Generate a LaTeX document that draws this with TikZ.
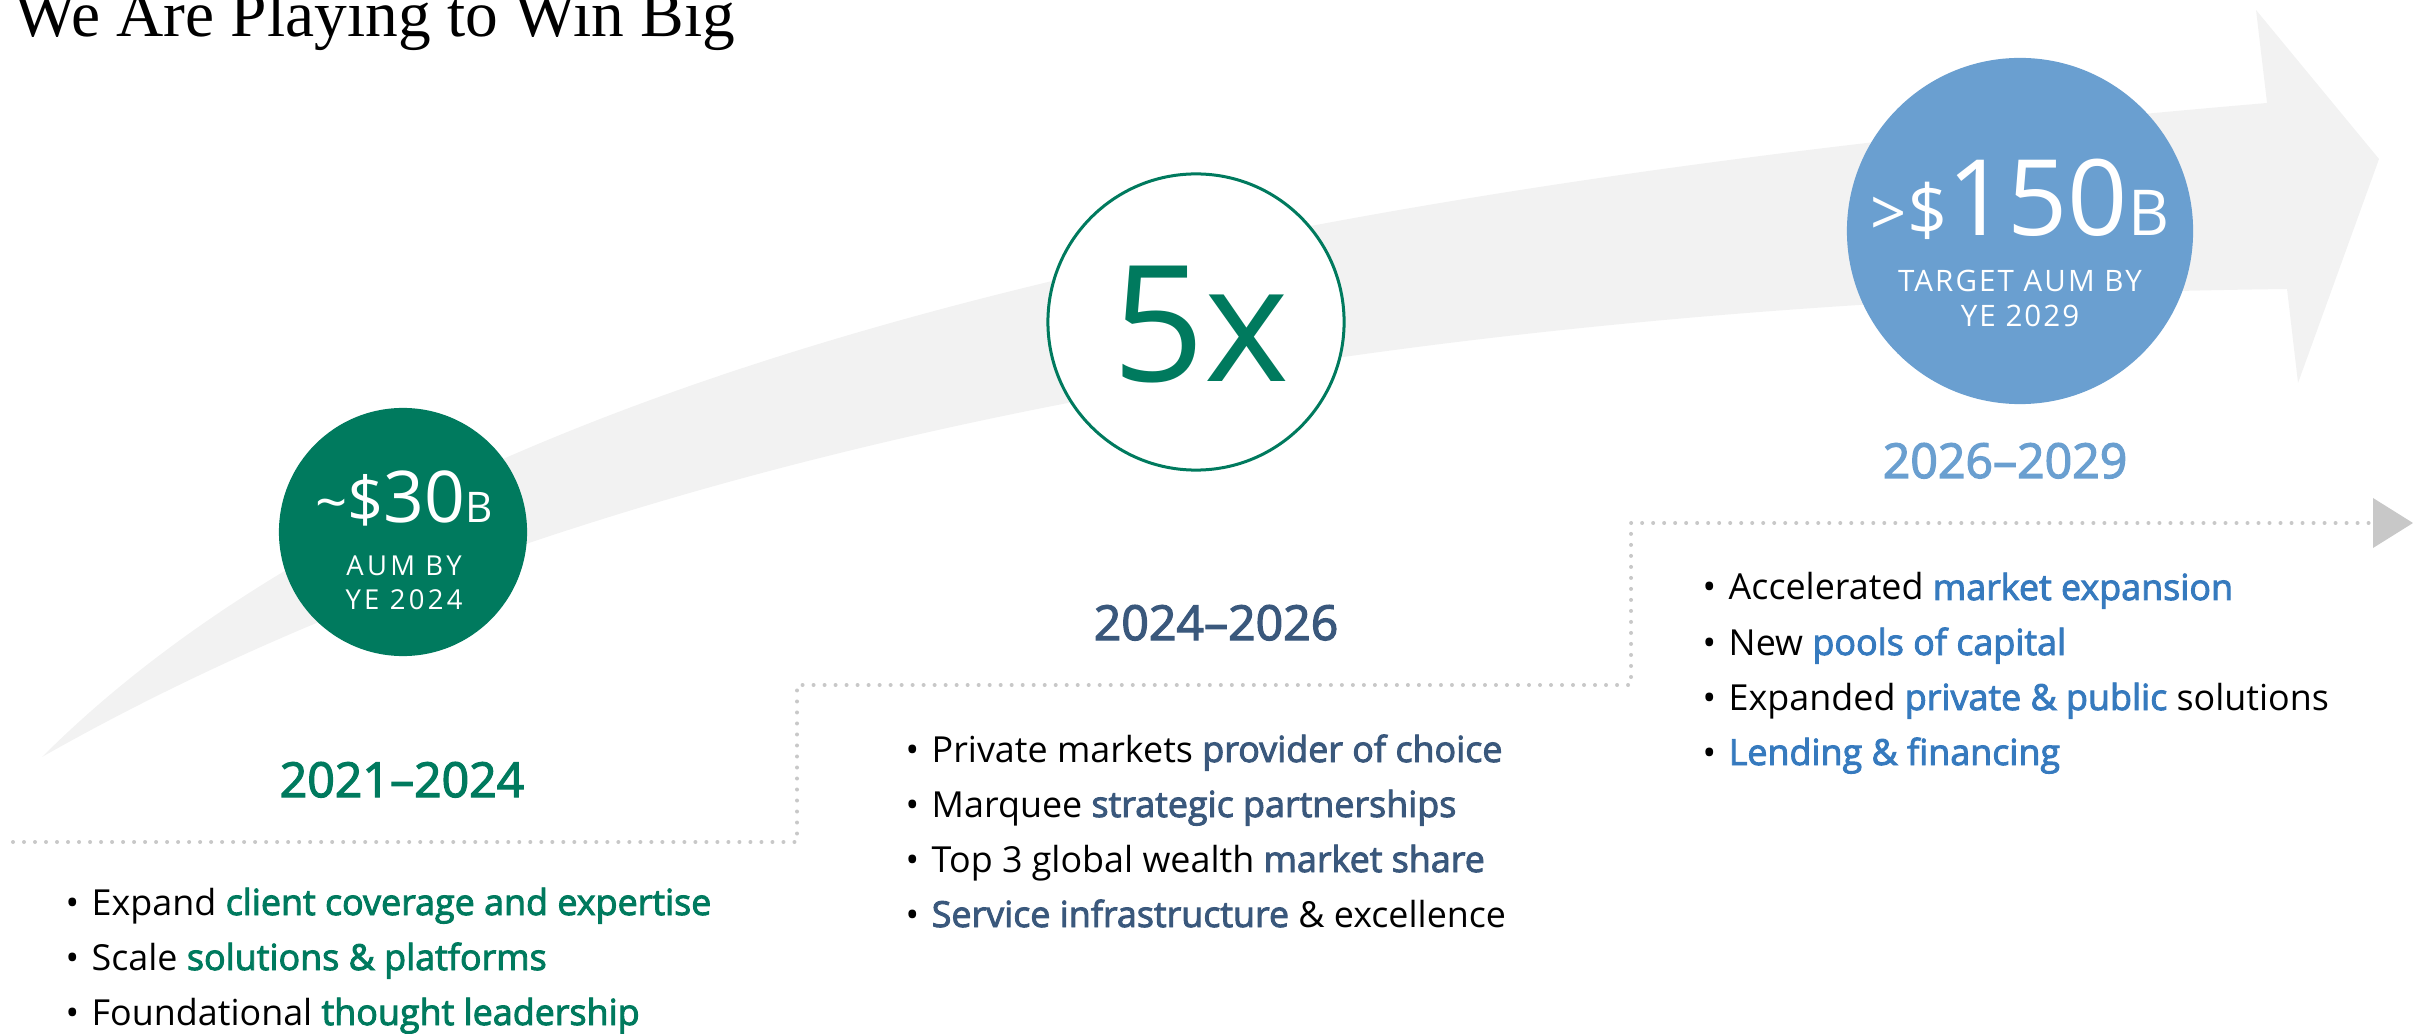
\documentclass[tikz,border=0pt]{standalone}
\usepackage{fontspec}
\setmainfont{Open Sans}[BoldFont={Open Sans}, BoldFeatures={FakeBold=2.6}]
\newfontfamily\lightfont{Open Sans}
\newfontfamily\titlefont{Liberation Serif}
\usetikzlibrary{arrows.meta, positioning}

\definecolor{wgreen}{RGB}{0,122,94}
\definecolor{wslate}{RGB}{58,88,124}
\definecolor{wblue}{RGB}{54,122,190}
\definecolor{wsky}{RGB}{106,159,208}
\definecolor{wdots}{RGB}{200,200,200}
\definecolor{wswoosh}{RGB}{242,242,242}

\newcommand{\bul}{\makebox[0.26cm][l]{\textbullet}}
\newcommand{\hl}[2]{\textcolor{#1}{\textbf{#2}}}
\newcommand{\sz}[2]{{\fontsize{#1}{#1}\selectfont #2}}

\tikzset{
  swoosh/.style={fill=wswoosh},
  track/.style={draw=wdots, line width=0.04cm, line cap=round, dash pattern=on 0pt off 0.11cm,
    -{Triangle[length=0.4cm, width=0.5cm, line width=0pt]}},
  coin/.style={circle, inner sep=0pt},
  coinnote/.style={anchor=base, text=white, font=\fontsize{7.8}{9}\selectfont\addfontfeature{LetterSpace=12}},
  yearlabel/.style={anchor=base, font=\bfseries\fontsize{13.7}{16}\selectfont},
  bulletline/.style={anchor=base west, inner sep=0pt, font=\fontsize{10.2}{12}\selectfont},
}

\begin{document}
\begin{tikzpicture}[x=0.01cm, y=-0.01cm]
  \useasboundingbox (0,0) rectangle (2413,1034);
  \clip (0,0) rectangle (2413,1034);

  % big grey arrow behind everything
  \fill[swoosh] (42,757) .. controls (450,350) and (1300,185) .. (2267,103)
    -- (2256,10) -- (2379,159) -- (2298,383) -- (2287,289)
    .. controls (1400,300) and (600,440) .. (42,757) -- cycle;

  % dotted staircase
  \coordinate (s0) at (13,842);
  \coordinate (s1) at (797,842);
  \coordinate (s2) at (797,685);
  \coordinate (s3) at (1631,685);
  \coordinate (s4) at (1631,523);
  \coordinate (s5) at (2413,523);
  \draw[track] (s0) -- (s1) -- (s2) -- (s3) -- (s4) -- (s5);

  \node[anchor=base west, inner sep=0pt, font=\titlefont\fontsize{18.6}{18.6}\selectfont] (title) at (14,37) {We Are Playing to Win Big};

  % circles
  \node[coin, fill=wgreen, minimum size=2.48cm] (aum) at (403,532) {};
  \node[anchor=base, text=white, font=\lightfont] (aumval) at (404,523)
    {\sz{16}{\textasciitilde}\sz{18}{\$}\sz{20.3}{30}\sz{12}{B}};
  \node[coinnote] (aumtxt) at (404,575) {AUM BY};
  \node[coinnote] (aumye) at (404,610) {YE 2024};

  \node[coin, draw=wgreen, line width=0.03cm, fill=white, minimum size=2.96cm] (ring) at (1196,322) {};
  \node[anchor=base, text=wgreen, font=\lightfont\fontsize{46}{46}\selectfont] (mult) at (1201,382) {5x};

  \node[coin, fill=wsky, minimum size=3.46cm] (goal) at (2020,231) {};
  \node[anchor=base, text=white, font=\lightfont] (goalval) at (2020,236)
    {\sz{18}{>}\sz{20}{\$}\sz{30}{150}\sz{18}{B}};
  \node[coinnote, font=\fontsize{8.4}{10}\selectfont\addfontfeature{LetterSpace=7}] (goaltxt) at (2020,292) {TARGET AUM BY};
  \node[coinnote, font=\fontsize{8.4}{10}\selectfont\addfontfeature{LetterSpace=7}] (goalye) at (2020,327) {YE 2029};

  % phase labels
  \node[yearlabel, text=wgreen] (p1) at (402,797) {2021--2024};
  \node[yearlabel, text=wslate] (p2) at (1216,640) {2024--2026};
  \node[yearlabel, text=wsky] (p3) at (2005,478) {2026--2029};

  % phase 1 bullets
  \node[bulletline] (g1) at (65,915) {\bul Expand \hl{wgreen}{client coverage and expertise}};
  \node[bulletline] (g2) at (65,970) {\bul Scale \hl{wgreen}{solutions \& platforms}};
  \node[bulletline] (g3) at (65,1025) {\bul Foundational \hl{wgreen}{thought leadership}};

  % phase 2 bullets
  \node[bulletline] (m1) at (905,762) {\bul Private markets \hl{wslate}{provider of choice}};
  \node[bulletline] (m2) at (905,817) {\bul Marquee \hl{wslate}{strategic partnerships}};
  \node[bulletline] (m3) at (905,872) {\bul Top 3 global wealth \hl{wslate}{market share}};
  \node[bulletline] (m4) at (905,927) {\bul \hl{wslate}{Service infrastructure} \& excellence};

  % phase 3 bullets
  \node[bulletline] (b1) at (1702,600) {\bul Accelerated \hl{wblue}{market expansion}};
  \node[bulletline] (b2) at (1702,655) {\bul New \hl{wblue}{pools of capital}};
  \node[bulletline] (b3) at (1702,710) {\bul Expanded \hl{wblue}{private \& public} solutions};
  \node[bulletline] (b4) at (1702,765) {\bul \hl{wblue}{Lending \& financing}};
\end{tikzpicture}
\end{document}
